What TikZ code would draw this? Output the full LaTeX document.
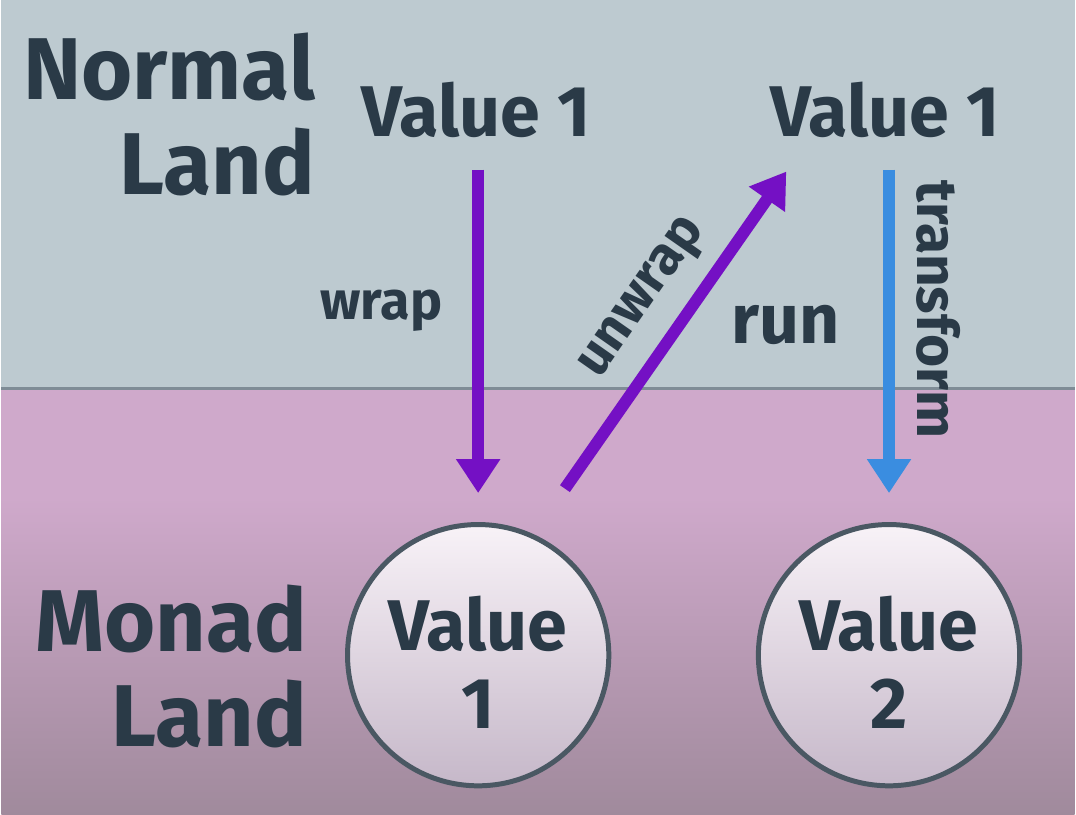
\documentclass[tikz,border=0pt]{standalone}
\usepackage{fontspec}
\setmainfont{Fira Sans}
\usetikzlibrary{arrows.meta}
\definecolor{skyland}{HTML}{BDCAD0}
\definecolor{pinkland}{HTML}{CFA9CB}
\definecolor{pinkdeep}{HTML}{A08A9C}
\definecolor{divline}{HTML}{7F8C96}
\definecolor{inkdark}{HTML}{2A3A47}
\definecolor{wrapviolet}{HTML}{7410C4}
\definecolor{mapblue}{HTML}{3A8DE0}
\definecolor{ringgrey}{HTML}{4A5863}
\tikzset{
  landtext/.style={text=inkdark, font=\bfseries\fontsize{88}{95}\selectfont, align=right, anchor=east},
  valtext/.style={text=inkdark, font=\bfseries\fontsize{72}{76}\selectfont},
  arrtext/.style={text=inkdark, font=\bfseries\fontsize{54}{60}\selectfont},
  boxed/.style={circle, draw=ringgrey, line width=5pt, minimum size=262pt, inner sep=0pt,
    top color=white!85!pinkland, bottom color=pinkland!55!white!80!ringgrey},
  boxedtext/.style={align=center, text=inkdark, font=\bfseries\fontsize{72}{78}\selectfont, yshift=-7pt},
  violetarrow/.style={draw=wrapviolet, line width=12pt, -{Triangle[width=42pt,length=34pt]}},
  bluearrow/.style={draw=mapblue, line width=12pt, -{Triangle[width=42pt,length=34pt]}}
}
\begin{document}
\begin{tikzpicture}[x=1pt, y=-1pt]
  % background lands
  \fill[skyland] (0,0) rectangle (1076,390);
  \fill[pinkland] (0,390) rectangle (1076,500);
  \shade[top color=pinkland, bottom color=pinkdeep] (0,499) rectangle (1076,817);
  \draw[divline, line width=3pt] (0,390) -- (1076,390);
  \useasboundingbox (0,0) rectangle (1076,817);

  % land names
  \node[landtext] (normal) at (318,115) {Normal\\Land};
  \node[landtext] (monad) at (310,668) {Monad\\Land};

  % plain values
  \node[valtext] (val1) at (476,110) {Value 1};
  \node[valtext] (val1b) at (886,110) {Value 1};

  % wrapped values
  \node[boxed] (box1) at (478,657) {};
  \node[boxed] (box2) at (890,657) {};
  \node[boxedtext] (box1txt) at (box1) {Value\\1};
  \node[boxedtext] (box2txt) at (box2) {Value\\2};

  % arrows
  \coordinate (wraptop) at (478,170);
  \coordinate (unwrapfoot) at (565,490);
  \coordinate (unwraptip) at (787,172);
  \coordinate (maptop) at (890,170);
  \draw[violetarrow, shorten >=29pt] (wraptop) -- (box1.north);
  \draw[violetarrow] (unwrapfoot) -- (unwraptip);
  \draw[bluearrow, shorten >=29pt] (maptop) -- (box2.north);

  % arrow labels
  \node[arrtext] (wrap) at (381,312) {wrap};
  \node[arrtext, rotate=55] (unwrap) at (645,300) {unwrap};
  \node[arrtext, font=\bfseries\fontsize{70}{76}\selectfont] (run) at (786,326) {run};
  \node[arrtext, rotate=-90, font=\bfseries\fontsize{57}{60}\selectfont] (transform) at (940,310) {transform};
\end{tikzpicture}
\end{document}
